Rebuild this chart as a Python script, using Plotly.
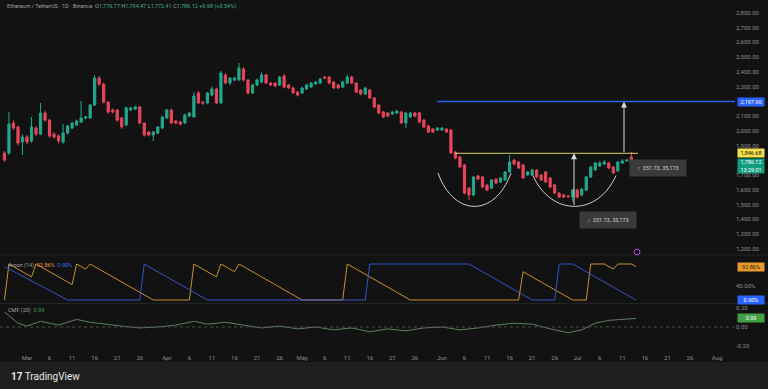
import plotly.graph_objects as go
import pandas as pd

# ---------------- DATA ----------------
start_date = "2023-02-24"
open_ = [1849,1849,2052,2025,1923,1957,1930,2018,1977,2120,2072,1977,1964,1923,1984,2018,2039,2059,2086,2086,
         2174,2357,2316,2194,2140,2140,2086,2039,2140,2147,2161,2052,1991,1971,1984,2018,2086,2140,2066,2059,
         2052,2099,2093,2256,2194,2188,2242,2283,2188,2378,2323,2344,2344,2418,2344,2256,2310,2330,2378,2323,
         2323,2310,2371,2310,2290,2262,2256,2283,2296,2317,2323,2364,2364,2330,2310,2296,2323,2364,2323,2276,
         2249,2276,2222,2174,2127,2120,2113,2120,2127,2052,2093,2120,2120,2072,2032,2011,2005,2005,2011,2005,
         1856,1822,1767,1611,1564,1693,1686,1632,1611,1672,1652,1666,1720,1801,1788,1767,1699,1699,1733,1699,
         1720,1679,1632,1577,1564,1557,1550,1598,1564,1598,1686,1733,1761,1774,1781,1754,1727,1781,1795,1822,
         1776.77]
high = [1862,2127,2070,2035,1975,1970,2093,2030,2188,2135,2080,1990,1975,2045,2040,2060,2075,2201,2100,2180,
        2378,2370,2325,2200,2150,2148,2095,2165,2162,2170,2168,2058,1998,1998,2032,2100,2148,2150,2072,2066,
        2115,2128,2262,2270,2200,2262,2300,2292,2405,2390,2365,2366,2459,2430,2350,2318,2352,2395,2386,2330,
        2330,2372,2385,2318,2298,2270,2298,2318,2330,2338,2358,2372,2370,2338,2318,2338,2380,2372,2330,2283,
        2298,2283,2228,2180,2135,2127,2135,2142,2135,2128,2128,2128,2128,2080,2040,2018,2025,2025,2018,2012,
        1862,1828,1774,1620,1693,1700,1693,1640,1672,1680,1686,1727,1835,1808,1795,1774,1727,1740,1740,1706,
        1727,1686,1640,1584,1570,1564,1606,1606,1611,1693,1762,1788,1795,1801,1788,1761,1795,1808,1808,1856,
        1794.47]
low = [1790,1835,2005,1900,1835,1910,1918,1965,1970,2060,1950,1945,1915,1912,1975,2010,2030,2050,2078,2080,
       2168,2305,2185,2115,2118,2060,2012,2030,2132,2140,2045,1960,1962,1930,1978,2010,2080,2045,2042,2035,
       2045,2092,2088,2180,2175,2180,2235,2180,2182,2315,2310,2336,2338,2335,2245,2248,2302,2322,2315,2302,
       2295,2302,2288,2282,2248,2232,2248,2276,2290,2310,2316,2350,2315,2282,2282,2290,2316,2315,2255,2240,
       2242,2215,2152,2112,2085,2092,2106,2113,2045,2018,2086,2092,2050,2018,1984,1984,1998,1998,1984,1842,
       1806,1745,1568,1530,1556,1664,1610,1590,1604,1638,1645,1660,1713,1766,1740,1672,1692,1692,1679,1658,
       1645,1610,1570,1543,1542,1545,1520,1540,1556,1590,1679,1726,1754,1766,1740,1706,1720,1774,1788,1770,
       1772.41]
close_ = [1801,2045,2018,1916,1957,1923,2025,1977,2120,2072,1964,1957,1930,1984,2032,2052,2066,2086,2093,2174,
          2357,2316,2194,2127,2127,2072,2025,2154,2154,2161,2052,1971,1971,1991,2025,2093,2140,2052,2052,2045,
          2106,2120,2235,2188,2188,2256,2283,2188,2391,2323,2357,2357,2425,2344,2256,2310,2344,2378,2323,2310,
          2303,2364,2296,2290,2256,2242,2290,2310,2323,2330,2350,2357,2323,2290,2290,2330,2364,2323,2262,2249,
          2290,2222,2161,2120,2093,2099,2127,2133,2052,2120,2120,2099,2059,2025,1991,1991,2018,2018,1991,1849,
          1815,1754,1577,1564,1686,1672,1618,1598,1666,1645,1679,1720,1788,1774,1747,1679,1720,1733,1686,1666,
          1652,1618,1577,1550,1550,1553,1598,1550,1604,1686,1754,1781,1781,1788,1747,1713,1788,1795,1801,1776.77,
          1786.12]

aroon_up_dates = ["2023-02-24","2023-02-25","2023-03-02","2023-03-03","2023-03-11","2023-03-12","2023-03-14",
                  "2023-03-15","2023-03-29","2023-04-06","2023-04-07","2023-04-12","2023-04-13","2023-04-16",
                  "2023-04-17","2023-05-01","2023-05-10","2023-05-11","2023-05-25","2023-06-18","2023-06-19",
                  "2023-06-30","2023-07-03","2023-07-04","2023-07-07","2023-07-09","2023-07-10","2023-07-13",
                  "2023-07-14"]
aroon_up_vals = [0,100,64.29,100,42.86,100,85.71,100,0,0,100,64.29,100,78.57,100,0,0,100,0,0,78.57,0,0,100,100,
                 85.71,100,100,92.86]
aroon_dn_dates = ["2023-02-24","2023-03-10","2023-03-26","2023-03-27","2023-04-10","2023-05-15","2023-05-16",
                  "2023-06-07","2023-06-21","2023-06-26","2023-06-27","2023-06-30","2023-07-14"]
aroon_dn_vals = [92.86,0,0,100,0,0,100,100,0,0,100,100,0]

cmf_dates = ["2023-02-24","2023-02-25","2023-02-27","2023-03-01","2023-03-04","2023-03-08","2023-03-12",
             "2023-03-15","2023-03-18","2023-03-22","2023-03-26","2023-03-30","2023-04-03","2023-04-07",
             "2023-04-10","2023-04-14","2023-04-18","2023-04-22","2023-04-26","2023-04-30","2023-05-04",
             "2023-05-08","2023-05-12","2023-05-16","2023-05-20","2023-05-24","2023-05-28","2023-06-01",
             "2023-06-05","2023-06-09","2023-06-13","2023-06-17","2023-06-21","2023-06-25","2023-06-29",
             "2023-07-02","2023-07-05","2023-07-08","2023-07-11","2023-07-14"]
cmf_vals = [0.16,0.12,0.04,0.01,0.06,0.02,0.08,0.05,0.03,0.01,-0.01,0.00,0.02,0.06,0.03,0.05,0.02,-0.01,0.01,
            -0.02,0.00,-0.03,-0.01,-0.05,-0.02,-0.04,-0.01,0.00,-0.03,-0.01,0.02,0.04,0.03,-0.02,-0.06,-0.03,
            0.04,0.07,0.08,0.09]

price_ticks = [1200,1300,1400,1500,1600,1700,1900,2000,2100,2300,2400,2500,2600,2700,2800]
x_tick_dates = ["2023-03-01","2023-03-06","2023-03-11","2023-03-16","2023-03-21","2023-03-26",
                "2023-04-01","2023-04-06","2023-04-11","2023-04-16","2023-04-21","2023-04-26",
                "2023-05-01","2023-05-06","2023-05-11","2023-05-16","2023-05-21","2023-05-26",
                "2023-06-01","2023-06-06","2023-06-11","2023-06-16","2023-06-21","2023-06-26",
                "2023-07-01","2023-07-06","2023-07-11","2023-07-16","2023-07-21","2023-07-26","2023-08-01"]
x_tick_labels = ["Mar","6","11","16","21","26","Apr","6","11","16","21","26","May","6","11","16","21","26",
                 "Jun","6","11","16","21","26","Jul","6","11","16","21","26","Aug"]

target_price = 2197.90
neckline_price = 1846.68
cup_bottom_price = 1487
last_price = 1786.12
aroon_up_last = 92.86
aroon_dn_last = 0.00
cmf_last = 0.09

# ---------------- STYLE ----------------
W, H = 768, 389
BG = "#121212"
STRIP = "#1e1e1e"
GREEN = "#22a88c"
RED = "#e8465a"
TXT = "#8d8f96"
FONT = "Roboto"

def px_x(p):
    return p / W

def px_y(p):
    return 1 - p / H

dates = pd.date_range(start_date, periods=len(close_), freq="D")

fig = go.Figure()
fig.add_trace(go.Candlestick(
    x=dates, open=open_, high=high, low=low, close=close_,
    increasing=dict(line=dict(color=GREEN, width=1), fillcolor=GREEN),
    decreasing=dict(line=dict(color=RED, width=1), fillcolor=RED),
    whiskerwidth=0, showlegend=False, hoverinfo="skip", xaxis="x", yaxis="y"))

fig.add_trace(go.Scatter(x=pd.to_datetime(aroon_up_dates), y=aroon_up_vals, mode="lines",
                         line=dict(color="#c8902e", width=1), xaxis="x", yaxis="y2", showlegend=False,
                         hoverinfo="skip"))
fig.add_trace(go.Scatter(x=pd.to_datetime(aroon_dn_dates), y=aroon_dn_vals, mode="lines",
                         line=dict(color="#3552c8", width=1), xaxis="x", yaxis="y2", showlegend=False,
                         hoverinfo="skip"))
fig.add_trace(go.Scatter(x=pd.to_datetime(cmf_dates), y=cmf_vals, mode="lines",
                         line=dict(color="#5f7d5c", width=1), xaxis="x", yaxis="y3", showlegend=False,
                         hoverinfo="skip"))

x_end_px = 735
mar1 = pd.Timestamp("2023-03-01")
px_per_day = 4.51
x0_px = 27
def day_at(px):
    return mar1 + pd.Timedelta(days=(px - x0_px) / px_per_day)

x_range = [day_at(0), day_at(x_end_px)]

def price_at(py):
    return 2800 - (py - 12.7) / 0.1475

main_top, main_bot = 0, 254
ar_top, ar_bot = 256, 303
cm_top, cm_bot = 304, 350

def aroon_at(py):
    return (300 - py) / 0.36

def cmf_at(py):
    return (327 - py) / 95.0

axis_font = dict(family=FONT, size=6, color=TXT)
fig.update_layout(
    width=W, height=H, margin=dict(l=0, r=0, t=0, b=0),
    paper_bgcolor=BG, plot_bgcolor=BG, showlegend=False,
    font=dict(family=FONT, size=6, color=TXT),
    xaxis=dict(domain=[0, x_end_px / W], range=x_range, anchor="y3", rangeslider=dict(visible=False),
               showgrid=False, zeroline=False, showline=False, ticks="",
               tickvals=pd.to_datetime(x_tick_dates), ticktext=x_tick_labels, tickfont=axis_font,
               ticklabelstandoff=3, automargin=False),
    yaxis=dict(domain=[px_y(main_bot), px_y(main_top)], range=[price_at(main_bot), price_at(main_top)],
               side="right", anchor="x", tickvals=price_ticks,
               ticktext=[f"{v:,.2f}" for v in price_ticks], tickfont=axis_font, showgrid=False,
               zeroline=False, showline=False, ticks="", automargin=False),
    yaxis2=dict(domain=[px_y(ar_bot), px_y(ar_top)], range=[aroon_at(ar_bot), aroon_at(ar_top)],
                side="right", anchor="x", tickvals=[40], ticktext=["40.00%"], tickfont=axis_font,
                showgrid=False, zeroline=False, showline=False, ticks="", automargin=False),
    yaxis3=dict(domain=[px_y(cm_bot), px_y(cm_top)], range=[cmf_at(cm_bot), cmf_at(cm_top)],
                side="right", anchor="x", tickvals=[-0.2, 0, 0.2], ticktext=["-0.20", "0.00", "0.20"],
                tickfont=axis_font, showgrid=False, zeroline=False, showline=False, ticks="",
                automargin=False),
)

shapes = []
shapes.append(dict(type="rect", xref="paper", yref="paper", x0=0, x1=1, y0=0, y1=px_y(362),
                   fillcolor=STRIP, line=dict(width=0), layer="below"))
for yy in (255, 303.5):
    shapes.append(dict(type="line", xref="paper", yref="paper", x0=0, x1=1, y0=px_y(yy), y1=px_y(yy),
                       line=dict(color="#232323", width=1)))
shapes.append(dict(type="line", xref="paper", yref="y3", x0=0, x1=x_end_px / W, y0=0, y1=0,
                   line=dict(color="#4a4a4a", width=1, dash="dot")))
shapes.append(dict(type="line", xref="x", yref="y", x0=day_at(437), x1=day_at(x_end_px),
                   y0=target_price, y1=target_price, line=dict(color="#2f5fe8", width=1.3)))
shapes.append(dict(type="line", xref="x", yref="y", x0=day_at(455), x1=day_at(638),
                   y0=neckline_price, y1=neckline_price, line=dict(color="#d8d46c", width=1)))

def dstr(ts):
    return ts.strftime("%Y-%m-%d_%H:%M:%S")

def cup(px_left, px_right, p_edge, p_bottom):
    w = px_right - px_left
    ctrl = (p_bottom - 0.25 * p_edge) / 0.75
    return (f"M {dstr(day_at(px_left))},{p_edge} C {dstr(day_at(px_left + 0.22 * w))},{ctrl} "
            f"{dstr(day_at(px_right - 0.22 * w))},{ctrl} {dstr(day_at(px_right))},{p_edge}")

shapes.append(dict(type="path", xref="x", yref="y", path=cup(438, 511, price_at(173), cup_bottom_price),
                   line=dict(color="#d0d0d0", width=1)))
shapes.append(dict(type="path", xref="x", yref="y", path=cup(533, 616, price_at(175.5), cup_bottom_price),
                   line=dict(color="#d0d0d0", width=1)))
shapes.append(dict(type="circle", xref="paper", yref="paper", x0=px_x(634), x1=px_x(640),
                   y0=px_y(255), y1=px_y(249), line=dict(color="#a94fd6", width=1)))
fig.update_layout(shapes=shapes)

ann = []
ann.append(dict(x=day_at(574), y=neckline_price, ax=day_at(574), ay=cup_bottom_price, xref="x", yref="y",
                axref="x", ayref="y", text="", showarrow=True, arrowhead=2, arrowsize=1.2, arrowwidth=1,
                arrowcolor="#d8d8d8"))
ann.append(dict(x=day_at(624), y=target_price, ax=day_at(624), ay=neckline_price, xref="x", yref="y",
                axref="x", ayref="y", text="", showarrow=True, arrowhead=2, arrowsize=1.2, arrowwidth=1,
                arrowcolor="#d8d8d8"))
for cx, cy in ((657.5, 167.5), (608, 220)):
    ann.append(dict(x=day_at(cx), y=price_at(cy), xref="x", yref="y", showarrow=False,
                    text="↕  351.73, 35,173", font=dict(family=FONT, size=5.5, color="#d0d0d0"),
                    bgcolor="#3a3a3a", width=54, height=14, borderpad=1))

g = "#3fae8e"
title = ("Ethereum / TetherUS · 1D · Binance  "
         f"O<span style='color:{g}'>1,776.77</span> H<span style='color:{g}'>1,794.47</span> "
         f"L<span style='color:{g}'>1,772.41</span> C<span style='color:{g}'>1,786.12</span> "
         f"<span style='color:{g}'>+9.68 (+0.54%)</span>")
ann.append(dict(x=px_x(5), y=px_y(6), xref="paper", yref="paper", xanchor="left", yanchor="middle",
                showarrow=False, text=title, font=dict(family=FONT, size=5.5, color="#a0a0a0")))
ann.append(dict(x=px_x(6), y=px_y(265), xref="paper", yref="paper", xanchor="left", yanchor="middle",
                showarrow=False,
                text=(f"Aroon (14)  <span style='color:#e59a2a'>{aroon_up_last:.2f}%</span>  "
                      f"<span style='color:#3d6cf0'>{aroon_dn_last:.2f}%</span>"),
                font=dict(family=FONT, size=5.5, color="#a0a0a0")))
ann.append(dict(x=px_x(6), y=px_y(310), xref="paper", yref="paper", xanchor="left", yanchor="middle",
                showarrow=False,
                text=f"CMF (20)  <span style='color:#43a047'>{cmf_last:.2f}</span>",
                font=dict(family=FONT, size=5.5, color="#a0a0a0")))

def axis_box(yref, y, text, bg, fg, h=8):
    ann.append(dict(x=px_x(737), y=y, xref="paper", yref=yref, xanchor="left", yanchor="middle",
                    showarrow=False, text=text, bgcolor=bg, font=dict(family=FONT, size=5.5, color=fg),
                    width=26, height=h, borderpad=0))

axis_box("y", target_price, f"{target_price:,.2f}", "#2962ff", "#ffffff")
axis_box("y", neckline_price, f"{neckline_price:,.2f}", "#f2e14c", "#111111")
ann.append(dict(x=px_x(737), y=price_at(158), xref="paper", yref="y", xanchor="left",
                yanchor="top", showarrow=False, text=f"{last_price:,.2f}<br>13:29:01", bgcolor="#0f9c80",
                font=dict(family=FONT, size=5.5, color="#ffffff"), width=26, height=14, borderpad=0))
axis_box("y2", aroon_up_last, f"{aroon_up_last:.2f}%", "#e59a2a", "#1a1a1a")
axis_box("y2", aroon_dn_last, f"{aroon_dn_last:.2f}%", "#2962ff", "#ffffff")
axis_box("y3", cmf_last, f"{cmf_last:.2f}", "#43a047", "#ffffff")

ann.append(dict(x=px_x(9), y=px_y(376), xref="paper", yref="paper", xanchor="left", yanchor="middle",
                showarrow=False, text="<b>17</b> TradingView",
                font=dict(family=FONT, size=10, color="#e8e8e8")))
fig.update_layout(annotations=ann)

fig.write_html("out.html")
